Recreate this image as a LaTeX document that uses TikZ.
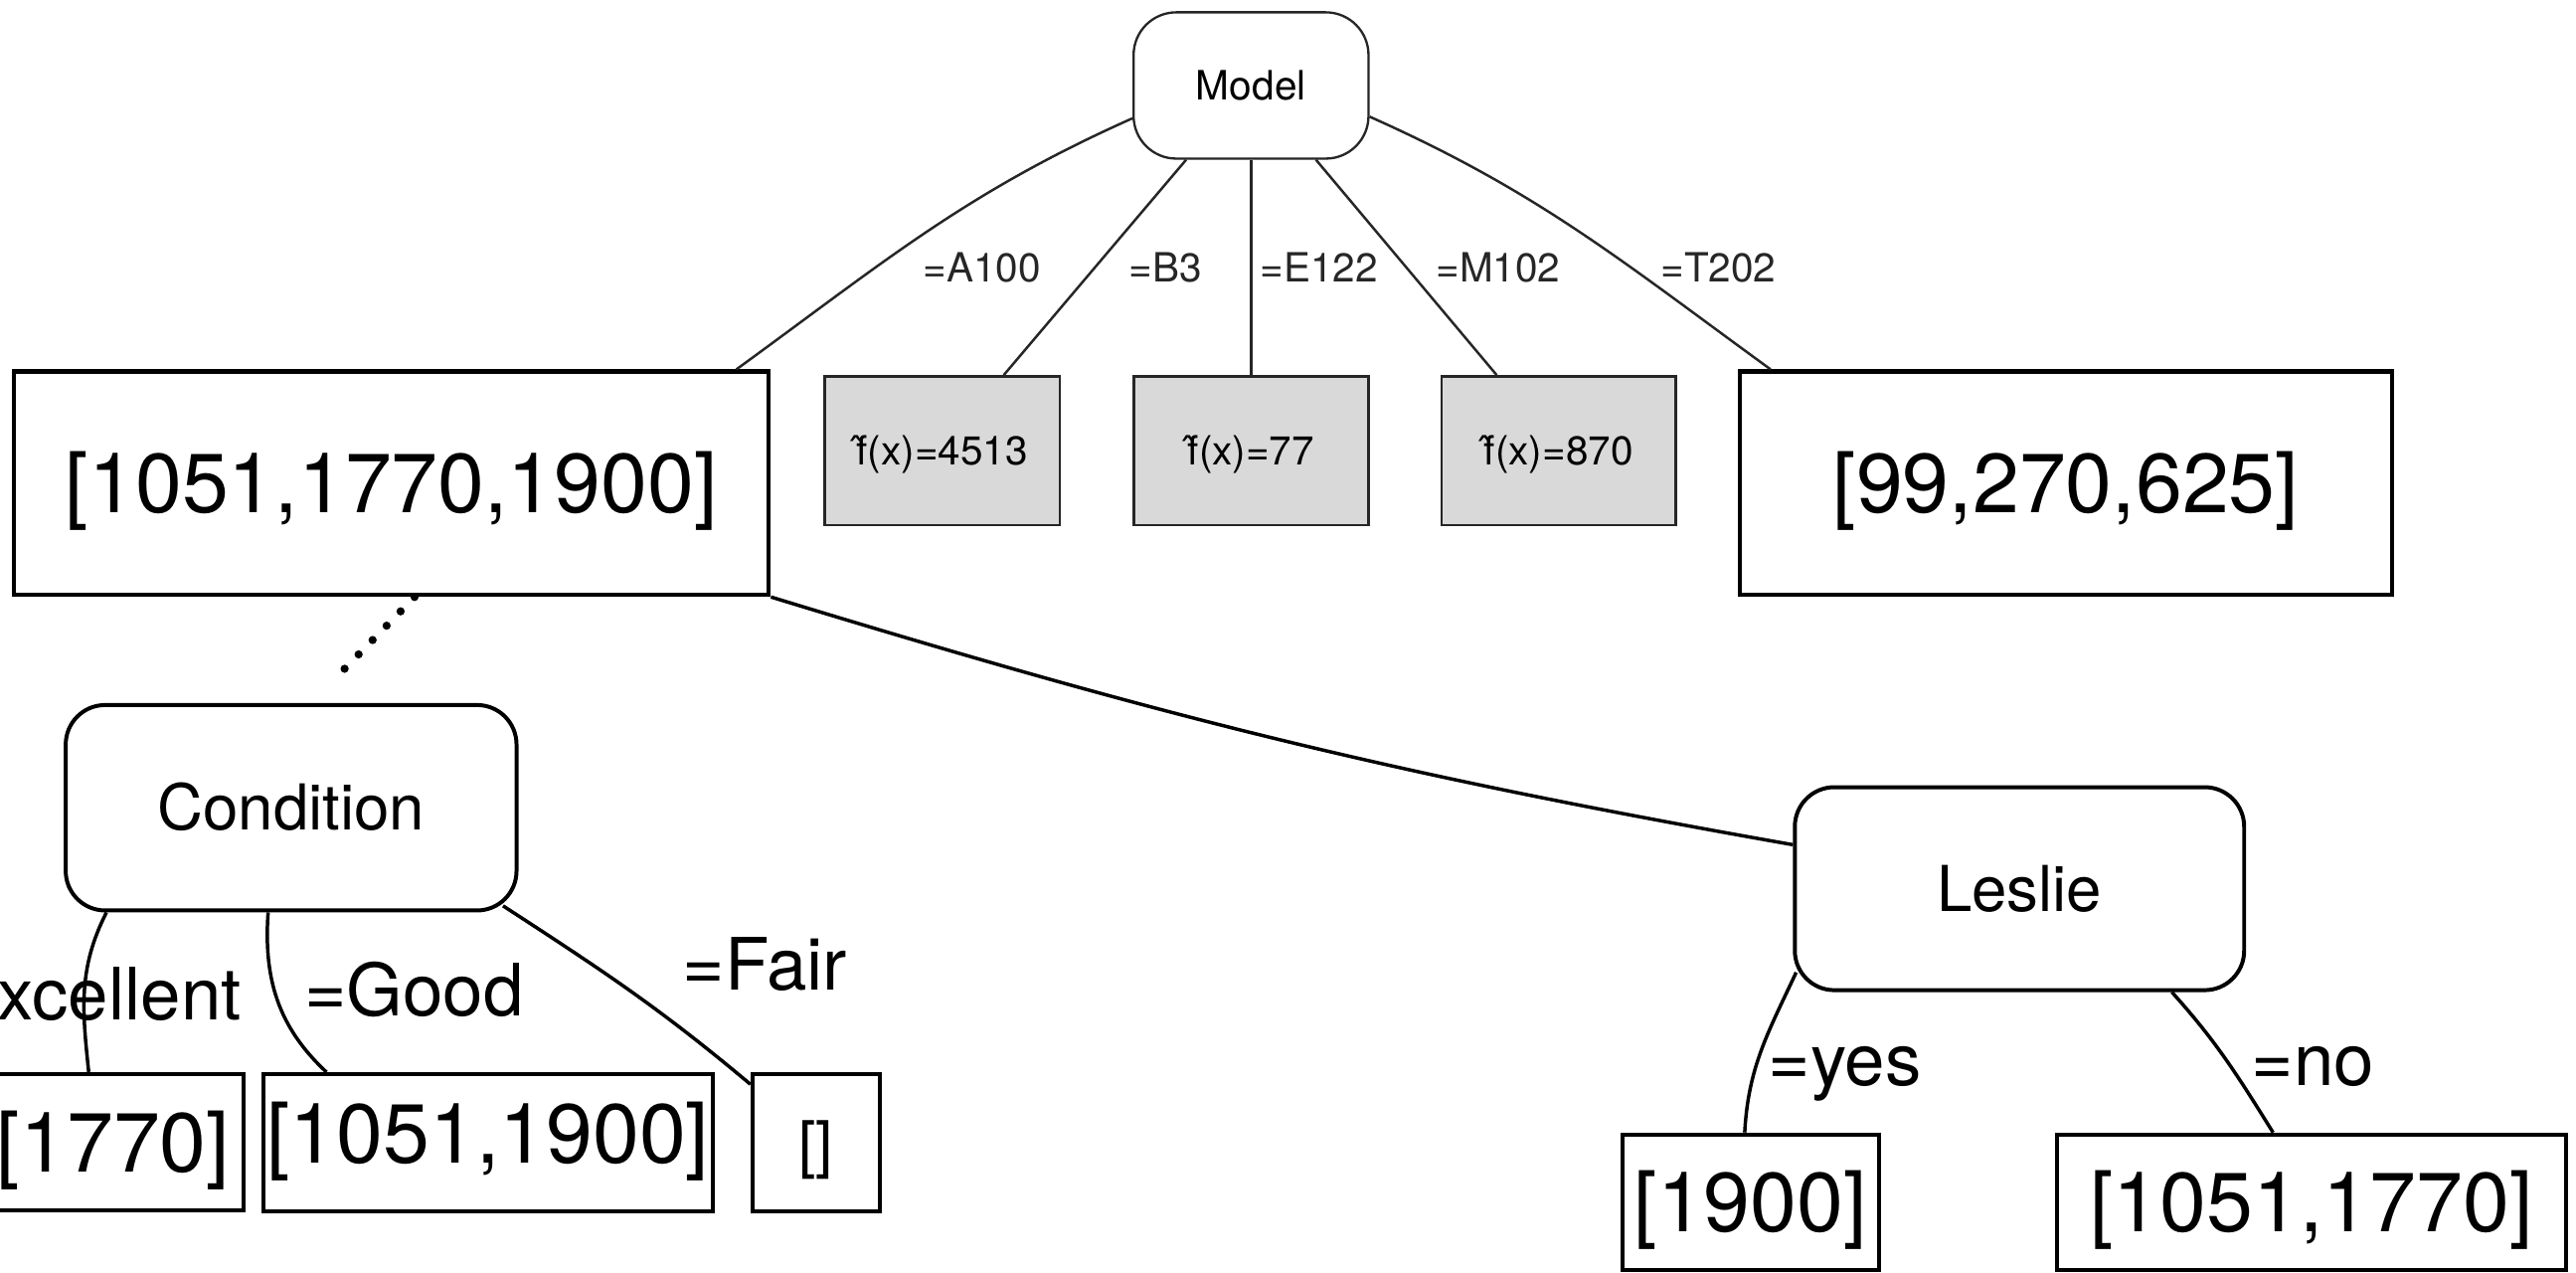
\documentclass[tikz,border=0pt]{standalone}
\usepackage{fontspec}
\setmainfont{TeX Gyre Heros}
\definecolor{boxgray}{RGB}{217,217,217}
\definecolor{ink}{RGB}{38,38,38}
\begin{document}
\begin{tikzpicture}[x=1pt,y=-1pt,
  % value boxes with large numbers
  bigbox/.style={draw, line width=2.5pt, inner sep=0pt, text height=36.5pt, text depth=0pt,
    font=\fontsize{51}{51}\selectfont},
  % rounded split nodes
  splitbox/.style={draw, line width=2.4pt, rounded corners=24pt, inner sep=0pt, text depth=0pt,
    font=\fontsize{38.5}{38.5}\selectfont},
  % small top-level nodes
  modelbox/.style={draw=ink, line width=1.4pt, rounded corners=26pt, inner sep=0pt,
    text height=17.5pt, text depth=0pt, font=\fontsize{24.6}{24.6}\selectfont},
  leafbox/.style={draw=ink, fill=boxgray, line width=1.6pt, inner sep=0pt,
    text height=17pt, text depth=0pt, font=\fontsize{24.5}{24.5}\selectfont},
  toplabel/.style={inner sep=0pt, anchor=base, text=ink, font=\fontsize{24.5}{24.5}\selectfont},
  lowlabel/.style={inner sep=0pt, anchor=base, font=\fontsize{44}{44}\selectfont},
  topedge/.style={draw=ink, line width=1.5pt},
  lowedge/.style={draw, line width=2.1pt},
  dotline/.style={draw, line width=5pt, line cap=round, dash pattern=on 0pt off 12.2pt}
]
\useasboundingbox (0,0) rectangle (1568,774.6);

% root and its leaves
\node[modelbox, minimum width=143pt, minimum height=89pt] (model) at (761.5,52) {Model};
\node[bigbox, minimum width=459.3pt, minimum height=136pt] (lbox) at (238.35,294) {[1051,1770,1900]};
\node[leafbox, minimum width=143pt, minimum height=90.5pt] (g1) at (573.5,274.25) {\^{f}(x)=4513};
\node[leafbox, minimum width=143pt, minimum height=90.5pt] (g2) at (761.5,274.25) {\^{f}(x)=77};
\node[leafbox, minimum width=142.5pt, minimum height=90.5pt] (g3) at (948.75,274.25) {\^{f}(x)=870};
\node[bigbox, minimum width=397pt, minimum height=136pt] (rbox) at (1257.5,294) {[99,270,625]};

\node[toplabel] (la) at (597.7,171.5) {=A100};
\node[toplabel] (lb) at (709.6,171.5) {=B3};
\node[toplabel] (le) at (803,171.5) {=E122};
\node[toplabel] (lm) at (912,171.5) {=M102};
\node[toplabel] (lt) at (1046,171.5) {=T202};

\draw[topedge] ([yshift=-20pt]model.west) to[out=204,in=36] ([xshift=-21pt]lbox.north east);
\draw[topedge] ([xshift=-39.5pt]model.south) -- ([xshift=37.5pt]g1.north);
\draw[topedge] (model.south) -- (g2.north);
\draw[topedge] ([xshift=39.5pt]model.south) -- ([xshift=-37.75pt]g3.north);
\draw[topedge] ([yshift=-19pt]model.east) to[out=-24,in=144] ([xshift=20pt]rbox.north west);

% second level
\node[splitbox, text height=27.5pt, minimum width=274.4pt, minimum height=125pt] (cond) at (177.2,491.5) {Condition};
\node[splitbox, text height=28pt, minimum width=273.5pt, minimum height=123.5pt] (leslie) at (1229.25,540.75) {Leslie};

\draw[dotline] ([xshift=14pt]lbox.south) -- ([xshift=24.3pt,yshift=12.4pt]cond.north);
\draw[lowedge] (lbox.south east) to[out=343,in=170] ([yshift=26.75pt]leslie.west);

% leaves under Condition
\node[bigbox, minimum width=158.6pt, minimum height=83pt] (b1770) at (69,695) {[1770]};
\node[bigbox, text height=24.6pt, minimum width=273.3pt, minimum height=83.4pt] (b1051a) at (297,695.3) {[1051,1900]};
\node[bigbox, text height=29pt, minimum width=77.6pt, minimum height=83.4pt,
  font=\fontsize{38}{38}\selectfont] (bempty) at (496.8,695.3) {[]};

\node[lowlabel, anchor=base east] (lexc) at (147,620.7) {=Excellent};
\node[lowlabel] (lgood) at (252,618) {=Good};
\node[lowlabel] (lfair) at (465.6,602.6) {=Fair};

\draw[lowedge] ([xshift=26pt]cond.south west) to[out=243,in=96] ([xshift=-15pt]b1770.north);
\draw[lowedge] ([xshift=-14pt]cond.south) to[out=266,in=137] ([xshift=39.6pt]b1051a.north west);
\draw[lowedge] ([xshift=-9.4pt,yshift=4pt]cond.south east) to[out=327,in=140] ([yshift=-7.4pt]bempty.north west);

% leaves under Leslie
\node[bigbox, minimum width=156.3pt, minimum height=82.3pt] (b1900) at (1065.6,731.5) {[1900]};
\node[bigbox, minimum width=310pt, minimum height=82.3pt] (b1051b) at (1407,731.5) {[1051,1770]};

\node[lowlabel] (lyes) at (1123,660.7) {=yes};
\node[lowlabel] (lno) at (1408,660.7) {=no};

\draw[lowedge] ([xshift=2pt,yshift=12pt]leslie.south west) to[out=245,in=87] ([xshift=-3.6pt]b1900.north);
\draw[lowedge] ([xshift=92.75pt]leslie.south) to[out=312,in=122] ([xshift=-23.4pt]b1051b.north);
\end{tikzpicture}
\end{document}
